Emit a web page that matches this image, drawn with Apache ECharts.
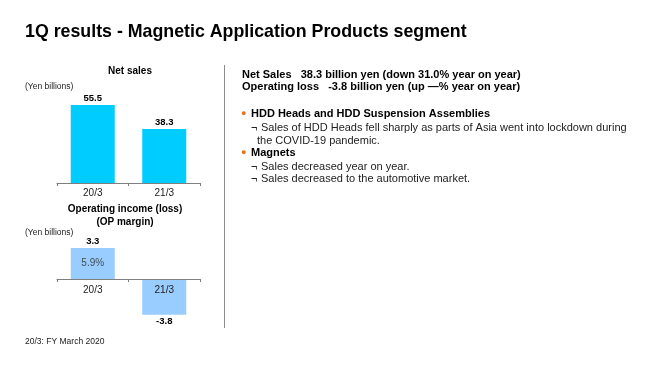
<!DOCTYPE html>
<html><head><meta charset="utf-8">
<script src="https://cdn.jsdelivr.net/npm/echarts@6/dist/echarts.min.js"></script>
<style>html,body{margin:0;padding:0;background:#fff}#c{width:660px;height:371px}</style>
</head><body><div id="c"></div>
<script>
var categories = ['20/3', '21/3'];
var netSales = [55.5, 38.3];
var opIncome = [3.3, -3.8];
var opMargin = ['5.9%', ''];

var FONT = '"Liberation Sans", Arial, sans-serif';
var chart = echarts.init(document.getElementById('c'), null, {renderer: 'canvas'});

function txt(x, y, text, size, weight, color, align) {
  return {type: 'text', x: x, y: y, style: {text: text, fontFamily: FONT, fontSize: size, fontWeight: weight || 'normal', fill: color || '#000', textAlign: align || 'left', textVerticalAlign: 'middle'}};
}

var axisLine0 = {show: true, lineStyle: {color: '#7f7f7f', width: 1}};
var axisLine1 = {show: true, onZero: false, lineStyle: {color: '#7f7f7f', width: 1}};
var axisTick = {show: true, length: 3, inside: false, lineStyle: {color: '#7f7f7f'}};

chart.setOption({
  animation: false,
  grid: [
    {left: 57, top: 100, width: 143, height: 83},
    {left: 57, top: 246, width: 143, height: 74}
  ],
  xAxis: [
    {type: 'category', gridIndex: 0, data: categories, axisLine: axisLine0, axisTick: axisTick,
     axisLabel: {fontFamily: FONT, fontSize: 10, color: '#222', margin: 5}, z: 10},
    {type: 'category', gridIndex: 1, data: categories, axisLine: axisLine1, axisTick: axisTick,
     offset: -41,
     axisLabel: {fontFamily: FONT, fontSize: 10, color: '#222', margin: 6}, z: 10}
  ],
  yAxis: [
    {type: 'value', gridIndex: 0, min: 0, max: 59, show: false, splitLine: {show: false}},
    {type: 'value', gridIndex: 1, min: -4.36, max: 3.51, show: false, splitLine: {show: false}}
  ],
  series: [
    {type: 'bar', xAxisIndex: 0, yAxisIndex: 0, data: netSales, barWidth: 44,
     itemStyle: {color: '#00CCFF'},
     label: {show: true, position: 'top', distance: 2, fontFamily: FONT, fontSize: 9.5, fontWeight: 'bold', color: '#000'}},
    {type: 'bar', xAxisIndex: 1, yAxisIndex: 1, barWidth: 44,
     itemStyle: {color: '#99CCFF'},
     data: opIncome.map(function (v) {
       return {value: v, label: {show: true, position: v >= 0 ? 'top' : 'bottom', distance: 2,
         fontFamily: FONT, fontSize: 9.5, fontWeight: 'bold', color: '#000'}};
     })},
    {type: 'scatter', xAxisIndex: 1, yAxisIndex: 1, symbolSize: 0, z: 5,
     data: opIncome.map(function (v, i) { return opMargin[i] ? v / 2 : null; }),
     label: {show: true, position: 'inside', fontFamily: FONT, fontSize: 10, color: '#2a2a2a',
       formatter: function (p) { return opMargin[p.dataIndex]; }}}
  ],
  graphic: [
    txt(25, 32, '1Q results - Magnetic Application Products segment', 17.8, 'bold'),
    txt(130, 71, 'Net sales', 10, 'bold', '#000', 'center'),
    txt(25, 87, '(Yen billions)', 8.5, 'normal', '#222'),
    txt(125, 209, 'Operating income (loss)', 10, 'bold', '#000', 'center'),
    txt(125, 222, '(OP margin)', 10, 'bold', '#000', 'center'),
    txt(25, 233, '(Yen billions)', 8.5, 'normal', '#222'),
    txt(25, 342, '20/3: FY March 2020', 8.5, 'normal', '#222'),
    {type: 'line', shape: {x1: 224.5, y1: 65, x2: 224.5, y2: 328}, style: {stroke: '#8c8c8c', lineWidth: 1}},
    txt(242, 75, 'Net Sales   38.3 billion yen (down 31.0% year on year)', 11, 'bold'),
    txt(242, 87, 'Operating loss   -3.8 billion yen (up \u2014% year on year)', 11, 'bold'),
    txt(241, 114, '\u25CF', 9, 'normal', '#E8731E'),
    txt(251, 114, 'HDD Heads and HDD Suspension Assemblies', 11, 'bold'),
    txt(251, 128, '\u00AC', 11, 'normal', '#222'),
    txt(261, 128, 'Sales of HDD Heads fell sharply as parts of Asia went into lockdown during', 11, 'normal', '#222'),
    txt(257, 141, 'the COVID-19 pandemic.', 11, 'normal', '#222'),
    txt(241, 153, '\u25CF', 9, 'normal', '#E8731E'),
    txt(251, 153, 'Magnets', 11, 'bold'),
    txt(251, 167, '\u00AC', 11, 'normal', '#222'),
    txt(261, 167, 'Sales decreased year on year.', 11, 'normal', '#222'),
    txt(251, 179, '\u00AC', 11, 'normal', '#222'),
    txt(261, 179, 'Sales decreased to the automotive market.', 11, 'normal', '#222')
  ]
});
</script></body></html>
